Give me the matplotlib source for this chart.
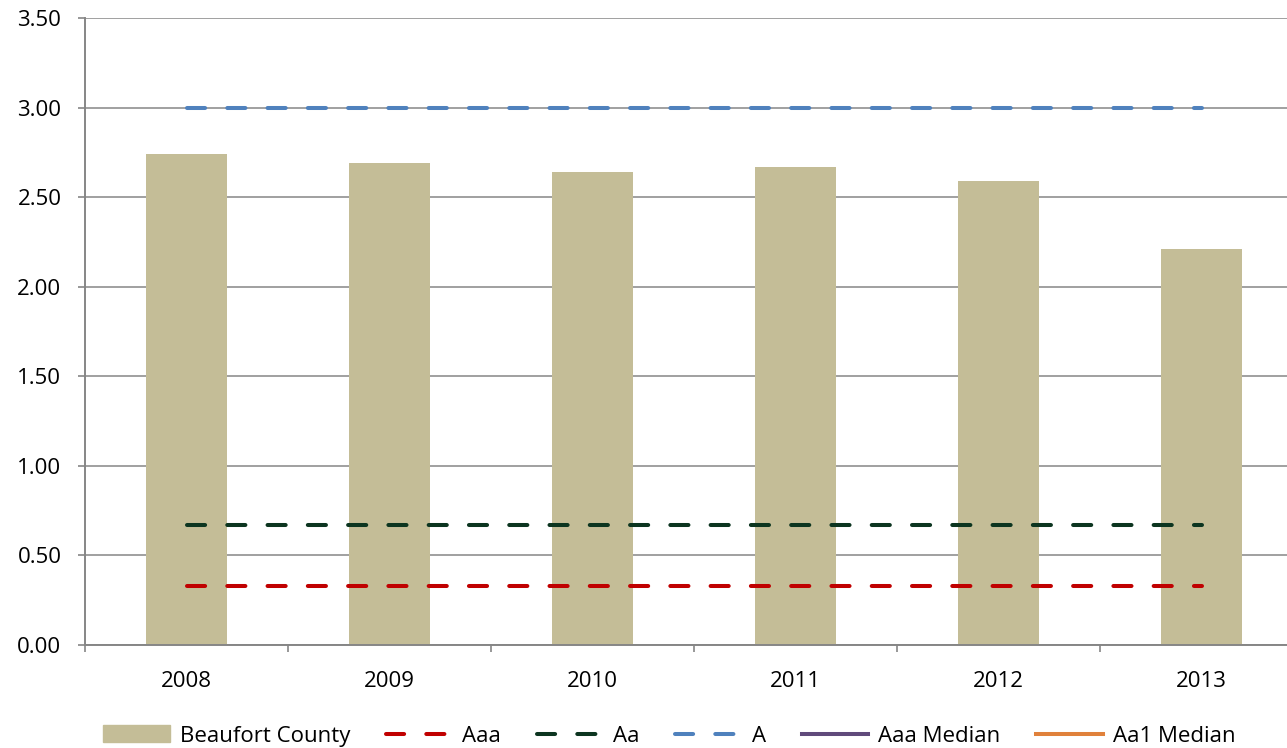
import matplotlib.pyplot as plt
import numpy as np
from matplotlib.patches import Patch
from matplotlib.lines import Line2D

plt.rcParams['font.family'] = ['Open Sans', 'DejaVu Sans']

years = ['2008', '2009', '2010', '2011', '2012', '2013']
beaufort = [2.74, 2.69, 2.64, 2.67, 2.59, 2.21]
aaa = [0.33] * 6
aa = [0.67] * 6
a_rating = [3.00] * 6
aaa_median = [np.nan] * 6
aa1_median = [np.nan] * 6

fig = plt.figure(figsize=(12.87, 7.48), dpi=100)
ax = fig.add_axes([85 / 1287, 1 - 645 / 748, 1218 / 1287, 627 / 748])

x = np.arange(len(years))
ax.bar(x, beaufort, width=0.4, color='#C4BD97', zorder=2)

dash = dict(lw=2.9, dashes=(4.5, 5.5), dash_capstyle='round', zorder=3)
ax.plot(x, aaa, color='#C00000', **dash)
ax.plot(x, aa, color='#0C3520', **dash)
ax.plot(x, a_rating, color='#4F81BD', **dash)
ax.plot(x, aaa_median, color='#604A7B', lw=2.9)
ax.plot(x, aa1_median, color='#E0813B', lw=2.9)

ax.set_xlim(-0.5, 5.5)
ax.set_ylim(0, 3.5)
ax.set_yticks(np.arange(0, 3.51, 0.5))
ax.set_yticklabels([f'{v:.2f}' for v in np.arange(0, 3.51, 0.5)])
ax.set_xticks(x)
ax.set_xticklabels(years)
ax.set_xticks(np.arange(-0.5, 5.6, 1), minor=True)
ax.tick_params(axis='x', which='major', length=0, pad=19, labelsize=16)
ax.tick_params(axis='x', which='minor', length=5, color='#868686', width=1.2)
ax.tick_params(axis='y', length=5, color='#868686', width=1.2, labelsize=16, pad=12)

ax.grid(axis='y', color='#A0A0A0', lw=1.4, zorder=0)
ax.set_axisbelow(True)
for s in ['top', 'right']:
    ax.spines[s].set_visible(False)
for s in ['left', 'bottom']:
    ax.spines[s].set_color('#868686')
    ax.spines[s].set_linewidth(1.4)

handles = [
    Patch(color='#C4BD97', label='Beaufort County'),
    Line2D([], [], color='#C00000', label='Aaa', **dash),
    Line2D([], [], color='#0C3520', label='Aa', **dash),
    Line2D([], [], color='#4F81BD', label='A', **dash),
    Line2D([], [], color='#604A7B', lw=2.9, label='Aaa Median'),
    Line2D([], [], color='#E0813B', lw=2.9, label='Aa1 Median'),
]
fig.legend(handles=handles, loc='lower center', bbox_to_anchor=(0.52, -0.025),
           ncol=6, frameon=False, fontsize=16, handlelength=3.0,
           handleheight=0.8, columnspacing=1.6, handletextpad=0.45)

fig.savefig('out.png', dpi=100)
